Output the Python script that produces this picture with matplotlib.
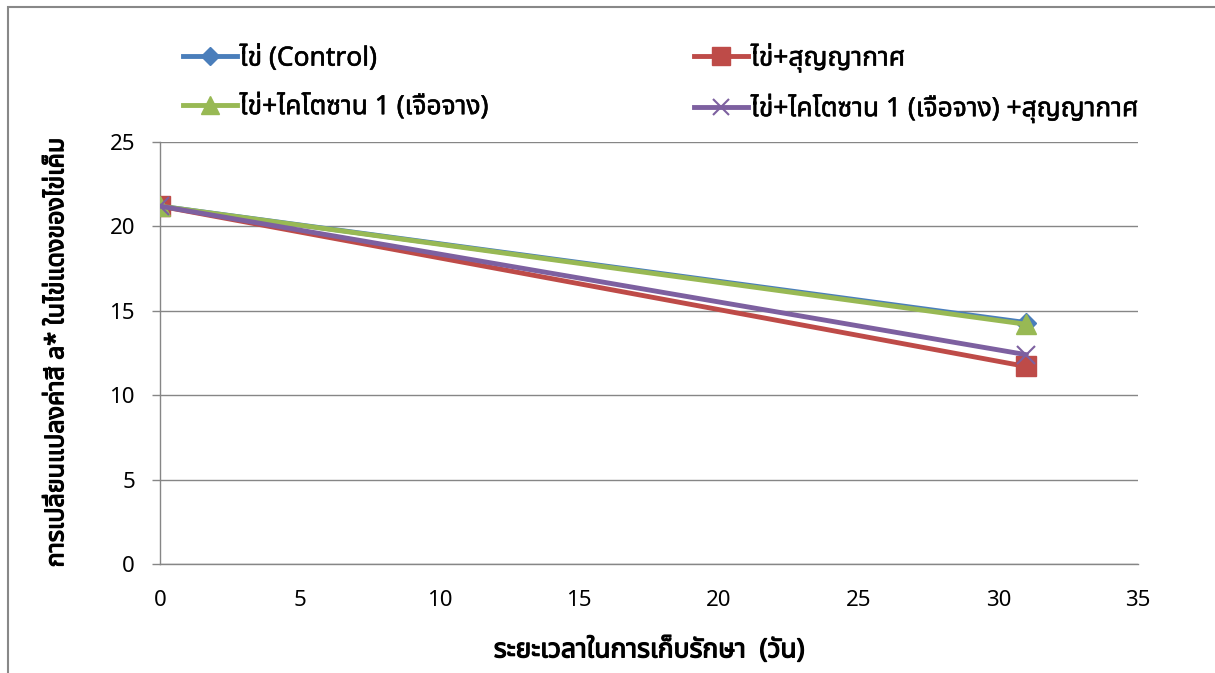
import matplotlib
matplotlib.use("Agg")
import matplotlib.pyplot as plt
from matplotlib.patches import Rectangle
from matplotlib import font_manager
import matplotlib.patheffects as pe

# Storage time (days) and a* values of salted egg yolk
days = [0, 31]
control = [21.2, 14.3]
vacuum = [21.2, 11.7]
chitosan = [21.2, 14.2]
chitosan_vacuum = [21.2, 12.4]

series_labels = [
    "ไข่ (Control)",
    "ไข่+สุญญากาศ",
    "ไข่+ไคโตซาน 1 (เจือจาง)",
    "ไข่+ไคโตซาน 1 (เจือจาง) +สุญญากาศ",
]
x_label = "ระยะเวลาในการเก็บรักษา  (วัน)"
y_label = "การเปลี่ยนแปลงค่าสี a* ในไข่แดงของไข่เค็ม"
x_ticks = [0, 5, 10, 15, 20, 25, 30, 35]
y_ticks = [0, 5, 10, 15, 20, 25]

# Prefer a family with Thai glyphs if one is present
names = {f.name for f in font_manager.fontManager.ttflist}
thai_candidates = ["Noto Sans Thai", "Noto Sans Thai UI", "Loma", "Garuda",
                   "Tahoma", "Leelawadee UI", "Sarabun", "Norasi", "Kinnari"]
families = [n for n in thai_candidates if n in names] + ["Noto Sans", "DejaVu Sans"]
plt.rcParams["font.family"] = families

fig = plt.figure(figsize=(12.15, 6.73), dpi=100)
ax = fig.add_axes([0.1317, 0.162, 0.8049, 0.627])

# outer chart frame (top and left edges visible)
fig.patches.append(Rectangle((8 / 1215, -0.05), 1.2, 1 - 7 / 673 + 0.05,
                             transform=fig.transFigure, fill=False,
                             edgecolor="#888888", linewidth=1.5))

h_control, = ax.plot(days, control, color="#4a7ebb", lw=3.5, marker="D", ms=10,
                     label=series_labels[0], zorder=3)
h_vacuum, = ax.plot(days, vacuum, color="#be4b48", lw=3.5, marker="s", ms=14,
                    label=series_labels[1], zorder=3)
h_chitosan, = ax.plot(days, chitosan, color="#98b954", lw=3.5, marker="^", ms=14,
                      label=series_labels[2], zorder=3)
h_chvac, = ax.plot(days, chitosan_vacuum, color="#7d60a0", lw=3.5, marker="x", ms=13,
                   mew=1.5, label=series_labels[3], zorder=3)

ax.set_xlim(0, 35)
ax.set_ylim(0, 25)
ax.set_xticks(x_ticks)
ax.set_yticks(y_ticks)
ax.set_xticks([0], minor=True)
ax.tick_params(labelsize=16, colors="black", color="#868686", width=1)
ax.tick_params(axis="x", which="major", length=0, pad=19)
ax.tick_params(axis="x", which="minor", length=6)
ax.tick_params(axis="y", length=6, pad=12)
ax.grid(axis="y", color="#868686", lw=1)
ax.set_axisbelow(True)
for s in ["top", "right"]:
    ax.spines[s].set_visible(False)
for s in ["left", "bottom"]:
    ax.spines[s].set_color("#868686")
    ax.spines[s].set_linewidth(1)

bold = [pe.withStroke(linewidth=0.9, foreground="black")]
ax.set_xlabel(x_label, fontsize=19, fontweight="bold", labelpad=18,
              path_effects=bold)
ax.set_ylabel(y_label, fontsize=18, fontweight="bold", labelpad=29,
              path_effects=bold)

# legend filled row by row: Control / vacuum, chitosan / chitosan+vacuum
handles = [h_control, h_chitosan, h_vacuum, h_chvac]
labels = [h.get_label() for h in handles]
leg = fig.legend(handles, labels, loc="upper left", bbox_to_anchor=(0.131, 0.972),
                 ncol=2, frameon=False, fontsize=19, handlelength=2.05,
                 columnspacing=7.8, labelspacing=0.78, handletextpad=0.1,
                 markerscale=0.9)
for t in leg.get_texts():
    t.set_path_effects([pe.withStroke(linewidth=0.4, foreground="black")])

fig.savefig("out.png", dpi=100)
